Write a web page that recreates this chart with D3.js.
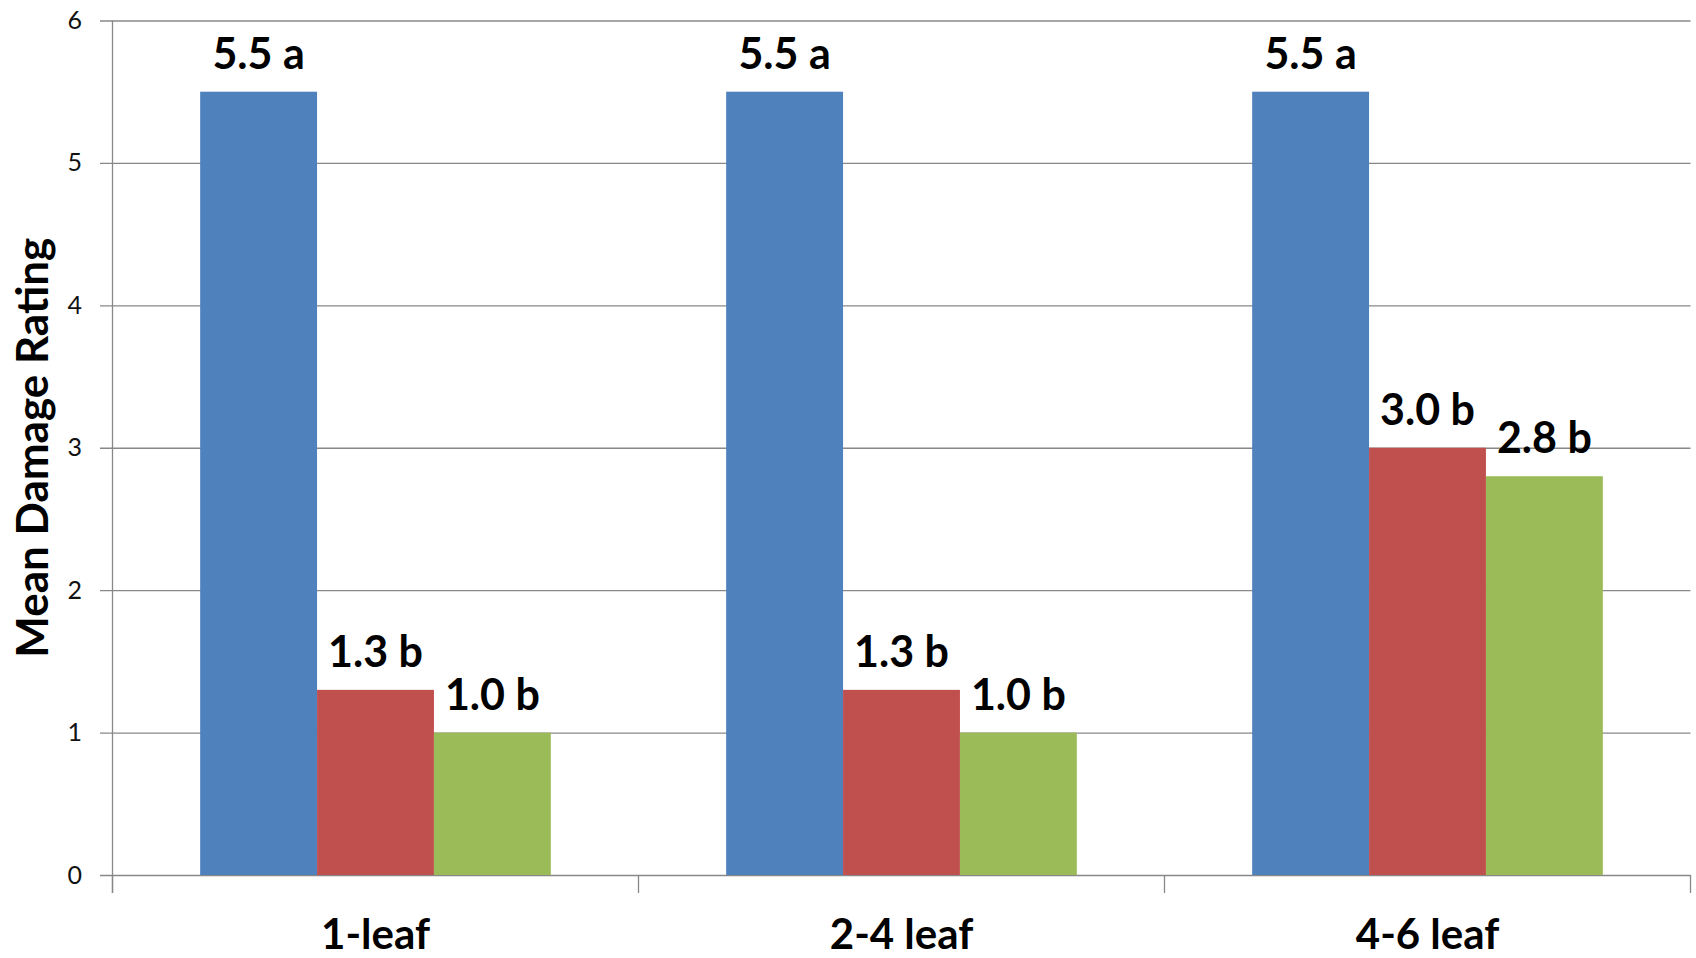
<!DOCTYPE html>
<html>
<head>
<meta charset="utf-8">
<script src="https://cdn.jsdelivr.net/npm/d3@7"></script>
<style>
  html, body { margin: 0; padding: 0; background: #fff; }
  svg { display: block; font-family: Lato, "Open Sans", sans-serif; }
</style>
</head>
<body>
<svg id="chart" width="1696" height="958"></svg>
<script>
// Leaf stages along the x axis
const stages = ["1-leaf", "2-4 leaf", "4-6 leaf"];
// Three treatments per stage
const treatments = ["t1", "t2", "t3"];
const treatment1 = [5.5, 5.5, 5.5];
const treatment2 = [1.3, 1.3, 3.0];
const treatment3 = [1.0, 1.0, 2.8];
// Mean-separation letters printed after each value
const letters1 = ["a", "a", "a"];
const letters2 = ["b", "b", "b"];
const letters3 = ["b", "b", "b"];
const yTicks = [0, 1, 2, 3, 4, 5, 6];
const colors = ["#4F81BD", "#C0504D", "#9BBB59"];

const values = [treatment1, treatment2, treatment3];
const letters = [letters1, letters2, letters3];

const svg = d3.select("#chart");

const plotLeft = 112.5, plotRight = 1690.5, plotTop = 20.5, plotBottom = 875;

const y = d3.scaleLinear().domain([0, 6]).range([plotBottom, plotTop]);
const x0 = d3.scaleBand().domain(stages).range([plotLeft, plotRight]).padding(0);
const x1 = d3.scaleBand().domain(treatments).range([0, x0.bandwidth()])
  .paddingInner(0).paddingOuter(0.75);

const gridColor = "#888888";

// Horizontal gridlines with tick labels
const yAxis = svg.append("g")
  .attr("transform", `translate(100,0)`)
  .call(d3.axisLeft(y).tickValues(yTicks).tickFormat(d3.format("d"))
    .tickSize(-(plotRight - 100)).tickPadding(18));
yAxis.select(".domain").remove();
yAxis.selectAll(".tick line").attr("stroke", gridColor).attr("stroke-width", 1.3);
yAxis.selectAll(".tick text")
  .attr("font-size", 25).attr("fill", "#111")
  .attr("font-family", "Lato, sans-serif");

// Bars
const groups = svg.append("g").selectAll("g")
  .data(stages)
  .join("g")
  .attr("transform", d => `translate(${x0(d)},0)`);

groups.selectAll("rect")
  .data((d, i) => treatments.map((t, k) => ({ t, k, v: values[k][i] })))
  .join("rect")
  .attr("x", d => x1(d.t))
  .attr("width", x1.bandwidth())
  .attr("y", d => y(d.v))
  .attr("height", d => y(0) - y(d.v))
  .attr("fill", d => colors[d.k]);

// Value labels above bars
groups.selectAll("text")
  .data((d, i) => treatments.map((t, k) => ({ t, k, v: values[k][i], l: letters[k][i] })))
  .join("text")
  .attr("x", d => x1(d.t) + x1.bandwidth() / 2)
  .attr("y", d => y(d.v) - 23)
  .attr("text-anchor", "middle")
  .attr("font-size", 43)
  .attr("font-weight", "bold")
  .attr("fill", "#000")
  .text(d => `${d3.format(".1f")(d.v)} ${d.l}`);

// Vertical axis line
svg.append("line")
  .attr("x1", plotLeft).attr("x2", plotLeft)
  .attr("y1", plotTop).attr("y2", plotBottom + 18)
  .attr("stroke", gridColor).attr("stroke-width", 1.3);

// Category boundary ticks on the x axis
const bounds = stages.map(s => x0(s)).concat([x0(stages[stages.length - 1]) + x0.bandwidth()]);
svg.append("g").selectAll("line")
  .data(bounds)
  .join("line")
  .attr("x1", d => d).attr("x2", d => d)
  .attr("y1", plotBottom).attr("y2", plotBottom + 18)
  .attr("stroke", gridColor).attr("stroke-width", 1.3);

// Category labels
const xAxis = svg.append("g")
  .attr("transform", `translate(0,${plotBottom})`)
  .call(d3.axisBottom(x0).tickSize(0).tickPadding(0));
xAxis.select(".domain").remove();
xAxis.selectAll(".tick text")
  .attr("y", 74)
  .attr("dy", null)
  .attr("font-size", 42)
  .attr("font-weight", "bold")
  .attr("fill", "#000")
  .attr("font-family", "Lato, sans-serif");

// Y axis title
svg.append("text")
  .attr("transform", `translate(48,${(plotTop + plotBottom) / 2}) rotate(-90)`)
  .attr("text-anchor", "middle")
  .attr("font-size", 44)
  .attr("font-weight", "bold")
  .attr("fill", "#000")
  .text("Mean Damage Rating");
</script>
</body>
</html>
